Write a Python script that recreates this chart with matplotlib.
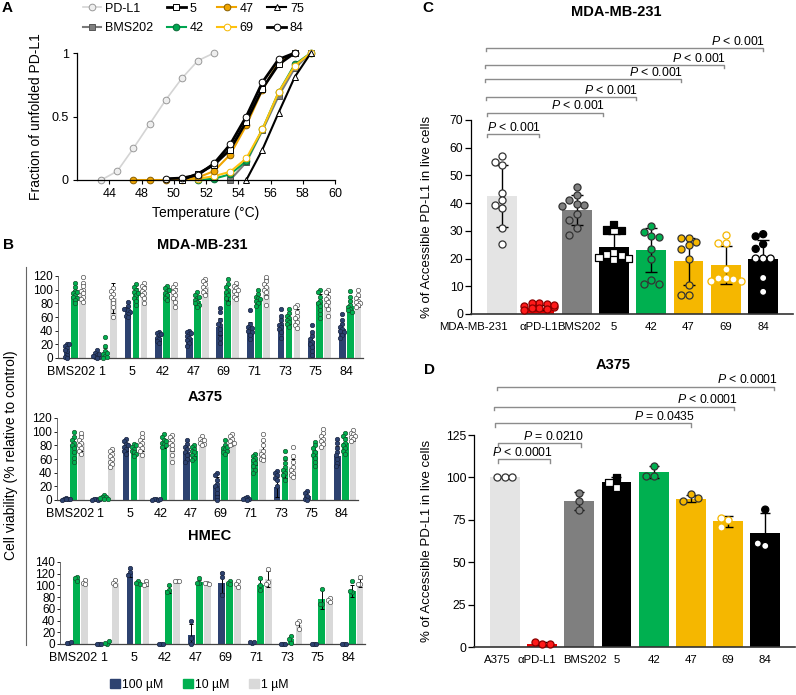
#!/usr/bin/env python3
# Thermal unfolding, cell viability and PD-L1 accessibility panels (A-D).

import matplotlib
matplotlib.use("Agg")
import matplotlib.pyplot as plt
import matplotlib.transforms as mtransforms
from matplotlib.lines import Line2D
from matplotlib.patches import Patch
import numpy as np

plt.rcParams.update({
    "font.family": ["Liberation Sans", "DejaVu Sans"],
    "mathtext.fontset": "custom",
    "mathtext.rm": "Liberation Sans",
    "mathtext.it": "Liberation Sans:italic",
    "axes.spines.top": False,
    "axes.spines.right": False,
    "axes.linewidth": 0.9,
    "xtick.direction": "out",
    "ytick.direction": "out",
})

W, H = 796, 695

# ---------------- panel A: unfolding curves ----------------
temp_ticks = [44, 46, 48, 50, 52, 54, 56, 58]
temp_tick_labels = ["44", "48", "50", "52", "54", "56", "58", "60"]

temp_pdl1 = [43.5, 44.5, 45.5, 46.5, 47.5, 48.5, 49.5, 50.5]
frac_pdl1 = [0, 0.07, 0.25, 0.44, 0.63, 0.80, 0.94, 1.0]
temp_bms = [51.5, 52.5, 53.5, 54.5, 55.5, 56.5]
frac_bms = [0, 0.14, 0.39, 0.66, 0.88, 1.0]
temp_5 = [48.5, 49.5, 50.5, 51.5, 52.5, 53.5, 54.5, 55.5]
frac_5 = [0, 0.05, 0.12, 0.24, 0.46, 0.72, 0.91, 1.0]
temp_42 = [49.5, 50.5, 51.5, 52.5, 53.5, 54.5, 55.5, 56.5]
frac_42 = [0, 0.01, 0.045, 0.15, 0.40, 0.69, 0.91, 1.0]
temp_47 = [45.5, 46.5, 47.5, 48.5, 49.5, 50.5, 51.5, 52.5, 53.5, 54.5, 55.5]
frac_47 = [0, 0, 0, 0.005, 0.02, 0.07, 0.20, 0.43, 0.71, 0.93, 1.0]
temp_69 = [48.5, 49.5, 50.5, 51.5, 52.5, 53.5, 54.5, 55.5, 56.5]
frac_69 = [0, 0.01, 0.03, 0.065, 0.17, 0.40, 0.69, 0.90, 1.0]
temp_75 = [52.5, 53.5, 54.5, 55.5, 56.5]
frac_75 = [0, 0.24, 0.53, 0.81, 1.0]
temp_84 = [47.5, 48.5, 49.5, 50.5, 51.5, 52.5, 53.5, 54.5, 55.5]
frac_84 = [0.01, 0.015, 0.04, 0.13, 0.28, 0.50, 0.77, 0.95, 1.0]

# ---------------- panel B: viability ----------------
compounds_b = ["BMS202", "1", "5", "42", "47", "69", "71", "73", "75", "84"]

mda_100 = [10, 2, 69, 30, 30, 46, 42, 48, 25, 42]
mda_10 = [91, 7, 94, 94, 84, 96, 86, 57, 82, 76]
mda_1 = [99, 88, 97, 93, 104, 99, 104, 62, 85, 82]
mda_sd_100 = [8, 4, 7, 5, 6, 13, 10, 10, 10, 8]
mda_sd_10 = [8, 8, 9, 8, 6, 12, 7, 7, 12, 8]
mda_sd_1 = [10, 22, 9, 10, 9, 8, 12, 10, 12, 7]
mda_pts_100 = [[20, 18, 15, 10, 5, 2, 0, 20, 12], [12, 8, 5, 2, 1, 0, 3, 6],
               [82, 76, 72, 70, 68, 65, 62, 60, 72], [38, 36, 33, 30, 28, 25, 22, 35],
               [40, 38, 35, 32, 29, 26, 22, 18, 36], [73, 68, 56, 48, 42, 36, 30, 22, 50],
               [70, 50, 46, 42, 40, 38, 34, 28, 44], [72, 62, 55, 50, 48, 45, 42, 38, 30],
               [48, 38, 32, 28, 24, 20, 16, 10, 4], [64, 56, 50, 46, 42, 40, 38, 34, 30]]
mda_pts_10 = [[110, 104, 98, 95, 92, 90, 88, 85, 80, 96], [31, 18, 10, 6, 3, 0, 8, 2],
              [108, 104, 100, 96, 92, 88, 84, 78, 95], [106, 102, 98, 95, 92, 88, 85, 100],
              [96, 92, 88, 85, 82, 80, 78, 75, 90], [115, 108, 100, 96, 92, 88, 80, 104],
              [100, 94, 90, 88, 86, 84, 80, 76], [72, 66, 62, 58, 55, 52, 50, 46],
              [100, 96, 90, 84, 80, 76, 70, 64, 58], [98, 90, 84, 78, 75, 72, 70, 68]]
mda_pts_1 = [[118, 110, 105, 100, 98, 95, 90, 86, 82], [102, 98, 94, 90, 85, 80, 75, 60],
             [110, 106, 102, 98, 95, 92, 88, 80], [108, 104, 100, 96, 92, 88, 82, 74],
             [116, 112, 108, 104, 100, 96, 92], [110, 106, 102, 98, 94, 90, 86, 100],
             [118, 112, 108, 104, 100, 96, 90, 78], [78, 74, 68, 62, 58, 52, 48, 44],
             [100, 96, 90, 86, 82, 78, 72, 62], [100, 92, 88, 84, 82, 80, 78, 74]]

a375_100 = [1, 0, 77, 0, 70, 20, 2, 19, 6, 65]
a375_10 = [81, 4, 73, 82, 71, 74, 60, 45, 71, 83]
a375_1 = [83, 62, 80, 83, 85, 86, 74, 48, 89, 92]
a375_sd_100 = [1, 1, 6, 1, 10, 13, 2, 14, 5, 14]
a375_sd_10 = [12, 2, 6, 6, 7, 6, 9, 13, 10, 9]
a375_sd_1 = [12, 9, 9, 12, 5, 5, 12, 12, 8, 5]
a375_pts_100 = [[3, 2, 1, 0, 1, 2], [2, 1, 0, 0, 1], [90, 86, 82, 78, 75, 72, 68, 80],
                [2, 1, 0, 0, 1], [88, 82, 78, 74, 70, 66, 60, 56],
                [40, 36, 30, 24, 20, 16, 10, 5, 0], [5, 3, 2, 1, 0], [43, 40, 36, 32, 30, 20],
                [13, 10, 6, 2, 0], [90, 84, 76, 70, 66, 60, 54, 50]]
a375_pts_10 = [[99, 92, 88, 84, 80, 76, 70, 62, 56], [7, 5, 4, 3, 2, 1],
               [82, 78, 75, 72, 70, 68, 64, 80], [96, 92, 88, 84, 82, 80, 78, 86],
               [80, 78, 75, 72, 70, 66, 62, 58], [88, 80, 76, 74, 72, 70, 68, 78],
               [68, 65, 62, 58, 54, 50, 44, 40], [72, 62, 54, 48, 44, 40, 36, 30],
               [85, 80, 76, 70, 66, 62, 56, 50], [98, 94, 90, 84, 80, 76, 72, 68]]
a375_pts_1 = [[98, 92, 88, 84, 80, 76, 72, 68], [75, 72, 68, 64, 60, 56, 52, 48],
              [98, 92, 88, 84, 80, 76, 72, 66], [95, 92, 88, 84, 80, 74, 66, 55],
              [94, 90, 86, 84, 82, 80, 88], [97, 94, 90, 86, 82, 80, 84],
              [96, 88, 80, 72, 68, 64, 60, 58], [77, 64, 56, 48, 44, 40, 36, 34],
              [104, 98, 94, 90, 86, 82, 78], [102, 98, 96, 94, 92, 90, 86]]

hmec_100 = [2, 0, 121, 0, 15, 105, 2, 0, 0, 0]
hmec_10 = [111, 2, 105, 93, 106, 104, 101, 8, 76, 91]
hmec_1 = [106, 105, 103, 107, 104, 102, 111, 33, 73, 104]
hmec_sd_100 = [1, 0, 7, 0, 20, 18, 1, 0, 0, 0]
hmec_sd_10 = [4, 2, 2, 6, 4, 3, 10, 6, 16, 10]
hmec_sd_1 = [4, 5, 4, 1, 1, 5, 14, 7, 3, 7]
hmec_pts_100 = [[1, 2, 3], [0, 0, 0], [130, 123, 118], [0, 0, 0], [0, 10, 40],
                [122, 115, 84], [1, 3, 4], [0, 0, 0], [0, 0, 0], [0, 0, 0]]
hmec_pts_10 = [[115, 112, 108], [0, 2, 5], [107, 105, 103], [100, 92, 88], [112, 105, 104],
               [108, 104, 102], [112, 100, 92], [13, 8, 2], [94, 68, 68], [107, 88, 90]]
hmec_pts_1 = [[110, 105, 103], [110, 105, 100], [108, 102, 100], [108, 108, 107],
              [105, 104, 103], [108, 103, 98], [128, 106, 103], [40, 36, 26],
              [78, 75, 72], [114, 102, 103]]

# ---------------- panels C and D: accessible PD-L1 ----------------
c_labels = ["MDA-MB-231", "αPD-L1", "BMS202", "5", "42", "47", "69", "84"]
c_mean = [42.7, 2.3, 37.6, 24.3, 23.2, 19.0, 17.6, 20.0]
c_sd = [11.2, 1.0, 5.5, 4.7, 8.0, 8.5, 6.8, 6.8]
c_pts = [[57, 53.8, 55, 43.7, 41, 39.2, 38.4, 31, 25.2],
         [4, 3.8, 3.5, 3, 2.6, 2.2, 2, 1.8, 1.5, 3.2],
         [45.8, 43, 41, 39.6, 39.5, 39, 36, 34, 31, 28.5],
         [32.4, 30.3, 30, 22, 21.5, 21, 20.5, 20, 19.5],
         [31.8, 29.5, 28.2, 27.8, 23.5, 20, 12.3, 11, 10.7],
         [27.5, 27.3, 26, 24.8, 23.3, 20, 10.5, 6.7, 6.7],
         [28.6, 25.5, 25.5, 16.3, 13, 13, 12.5, 12, 12],
         [28.8, 28, 25.2, 23.5, 20, 20, 20, 13, 8]]
c_pvals = ["< 0.001", "< 0.001", "< 0.001", "< 0.001", "< 0.001", "< 0.001"]
c_br_left = [-0.4, -0.4, -0.43, -0.45, -0.45, -0.43]
c_br_right = [1.0, 2.7, 3.6, 4.8, 5.95, 7.0]
c_br_y = [65, 72.6, 78.3, 84.8, 89.9, 96]

d_labels = ["A375", "αPD-L1", "BMS202", "5", "42", "47", "69", "84"]
d_mean = [100, 2.0, 86, 97, 103, 87.5, 74, 67.5]
d_sd = [0, 0.7, 5.5, 3, 3.5, 2.2, 3, 11.5]
d_pts = [[100, 100, 100], [1.5, 2.7, 1.8], [91, 86, 80.5], [100, 96.8, 94.2],
         [107, 101, 101], [90, 86, 88], [75, 71, 76.2], [81, 59.6, 61]]
d_pvals = ["< 0.0001", "= 0.0210", "= 0.0435", "< 0.0001", "< 0.0001"]
d_br_left = [-0.19, -0.19, -0.27, -0.3, -0.2]
d_br_right = [1.2, 2.04, 5.0, 6.17, 7.24]
d_br_y = [110.6, 120, 131.8, 141.8, 153.5]

NAVY = "#2d4270"
GREEN = "#00b050"
LGRAY = "#d9d9d9"
GOLD = "#f5b700"
RED = "#e60000"

fig = plt.figure(figsize=(W / 100, H / 100), dpi=100)


def add_ax(left, top, right, bottom):
    return fig.add_axes([left / W, 1 - bottom / H, (right - left) / W, (bottom - top) / H])


def ftext(x, y, s, **kw):
    fig.text(x / W, 1 - y / H, s, **kw)


def swarm(vals, ythr, dx, nmax=2):
    cands = [0.0]
    for k in range(1, nmax + 1):
        cands += [-k * dx, k * dx]
    placed, offs = [], []
    for v in vals:
        def clash(c):
            return sum(1 for pv, pc in placed if abs(v - pv) < ythr and abs(c - pc) < dx * 0.99)
        free = [c for c in cands if clash(c) == 0]
        best = free[0] if free else min(cands, key=clash)
        placed.append((v, best))
        offs.append(best)
    return np.array(offs)


# ---- A ----
ax = add_ax(77, 53, 335, 180)
styles = [
    ("PD-L1", temp_pdl1, frac_pdl1, dict(color="#d4d4d4", lw=1.2, marker="o", mfc="#eeeeee", mec="#999999")),
    ("BMS202", temp_bms, frac_bms, dict(color="#7a7a7a", lw=1.5, marker="s", mfc="#7f7f7f", mec="#555555")),
    ("42", temp_42, frac_42, dict(color="#00a651", lw=1.5, marker="o", mfc="#00a651", mec="#0b6b36")),
    ("69", temp_69, frac_69, dict(color="#ffc20e", lw=1.5, marker="o", mfc="white", mec=GOLD)),
    ("47", temp_47, frac_47, dict(color="#f0a500", lw=1.5, marker="o", mfc="#f0a500", mec="#8a6000")),
    ("75", temp_75, frac_75, dict(color="black", lw=1.5, marker="^", mfc="white", mec="black")),
    ("5", temp_5, frac_5, dict(color="black", lw=2.0, marker="s", mfc="white", mec="black")),
    ("84", temp_84, frac_84, dict(color="black", lw=2.0, marker="o", mfc="white", mec="black")),
]
handles = {}
for name, tx, fy, st in styles:
    ln, = ax.plot(tx, fy, ms=4.8, mew=0.7, clip_on=False, label=name, **st)
    handles[name] = ln
ax.set_xlim(42, 58)
ax.set_ylim(0, 1)
ax.set_xticks(temp_ticks)
ax.set_xticklabels(temp_tick_labels)
ax.set_yticks([0, 0.5, 1])
ax.set_yticklabels(["0", "0.5", "1"])
ax.tick_params(labelsize=9, length=3, width=0.8, pad=3)
ax.set_xlabel("Temperature (°C)", fontsize=10, labelpad=4)
ax.set_ylabel("Fraction of unfolded PD-L1", fontsize=10, labelpad=6)
order = ["PD-L1", "BMS202", "5", "42", "47", "69", "75", "84"]
fig.legend([handles[k] for k in order], order, ncol=4, loc="upper left",
           bbox_to_anchor=(80 / W, 1 - 0 / H), frameon=False, fontsize=9,
           handlelength=1.5, handletextpad=0.3, columnspacing=1.1,
           labelspacing=0.6, borderaxespad=0, borderpad=0.2)
ftext(7, 8, "A", fontsize=11, fontweight="bold", ha="center", va="center")

# ---- B ----
bar_off = [-0.26, 0.0, 0.26]
bar_col = [NAVY, GREEN, LGRAY]
pt_face = [NAVY, GREEN, "white"]
pt_edge = ["#1a2540", "#14532d", "#555555"]


def draw_viability(ax, means, sds, pts, ymax, ythr):
    for k in range(3):
        x = np.arange(len(compounds_b)) + bar_off[k]
        ax.bar(x, means[k], width=0.22, color=bar_col[k], zorder=1)
        ax.errorbar(x, means[k], yerr=sds[k], fmt="none", ecolor="black",
                    elinewidth=0.7, capsize=1.5, capthick=0.7, zorder=2)
        for i, vals in enumerate(pts[k]):
            off = swarm(vals, ythr, 0.065, nmax=2)
            ax.scatter(x[i] + off, vals, s=10, facecolor=pt_face[k], edgecolor=pt_edge[k],
                       linewidth=0.5, zorder=3, clip_on=False)
    ax.set_xlim(-0.55, 9.42)
    ax.set_ylim(0, ymax)
    ax.set_yticks(np.arange(0, ymax + 1, 20))
    ax.set_xticks(np.arange(len(compounds_b)) - 0.13)
    ax.set_xticklabels(compounds_b, fontsize=9)
    ax.tick_params(axis="x", length=0, pad=6)
    ax.tick_params(axis="y", labelsize=8.5, length=2.5, width=0.6, pad=1)
    ax.spines["left"].set_linewidth(0.6)
    ax.spines["left"].set_color("#555555")
    ax.spines["bottom"].set_color("#444444")


axb1 = add_ax(58, 276, 363, 358)
draw_viability(axb1, [mda_100, mda_10, mda_1], [mda_sd_100, mda_sd_10, mda_sd_1],
               [mda_pts_100, mda_pts_10, mda_pts_1], 120, 5)
axb2 = add_ax(57, 418, 358, 500)
draw_viability(axb2, [a375_100, a375_10, a375_1], [a375_sd_100, a375_sd_10, a375_sd_1],
               [a375_pts_100, a375_pts_10, a375_pts_1], 120, 5)
axb3 = add_ax(60, 562, 365, 644)
draw_viability(axb3, [hmec_100, hmec_10, hmec_1], [hmec_sd_100, hmec_sd_10, hmec_sd_1],
               [hmec_pts_100, hmec_pts_10, hmec_pts_1], 140, 6)

ftext(202, 245, "MDA-MB-231", fontsize=10.5, fontweight="bold", ha="center", va="center")
ftext(205, 397, "A375", fontsize=10.5, fontweight="bold", ha="center", va="center")
ftext(210, 536, "HMEC", fontsize=10.5, fontweight="bold", ha="center", va="center")
ftext(8, 245, "B", fontsize=11, fontweight="bold", ha="center", va="center")
ftext(11, 455, "Cell viability (% relative to control)", fontsize=10, rotation=90,
      ha="center", va="center")
fig.add_artist(Line2D([26 / W, 26 / W], [1 - 267 / H, 1 - 645 / H], color="#666666", lw=0.8))
fig.legend([Patch(color=c) for c in bar_col], ["100 µM", "10 µM", "1 µM"], ncol=3,
           loc="center left", bbox_to_anchor=(110 / W, 1 - 685 / H), frameon=False,
           fontsize=8.8, handlelength=0.8, handleheight=0.8, handletextpad=0.2,
           columnspacing=1.6, borderaxespad=0, borderpad=0)


# ---- C and D ----
def accessible_panel(ax, labels, means, sds, pts, ymax, yticks, ythr, capsize, lab_shift):
    colors = [LGRAY, RED, "#7f7f7f", "black", GREEN, GOLD, GOLD, "black"]
    x = np.arange(len(labels))
    ax.bar(x, means, width=0.8, color=["#e4e4e4"] + colors[1:], zorder=1)
    ax.errorbar(x, means, yerr=sds, fmt="none", ecolor="black", elinewidth=1.0,
                capsize=capsize, capthick=1.0, zorder=2)
    for i, vals in enumerate(pts):
        vals = np.array(vals, dtype=float)
        off = swarm(vals, ythr, 0.2, nmax=2)
        marker = "s" if labels[i] == "5" else "o"
        if i == 0:
            fc, ec = "white", "#333333"
        elif i == 1:
            fc, ec = "#ff1a1a", "#8b0000"
        elif i == 2:
            fc, ec = "#808080", "#333333"
        elif i == 4:
            fc, ec = GREEN, "#333333"
        elif i == 5:
            fc, ec = GOLD, "#333333"
        elif i == 6:
            fc, ec = "white", GOLD
        else:
            fc = np.where(vals > means[i], "black", "white").tolist()
            ec = "black"
        ax.scatter(x[i] + off, vals, s=26, marker=marker, facecolor=fc, edgecolor=ec,
                   linewidth=0.9, zorder=3, clip_on=False)
    ax.set_xlim(-0.83, 7.8)
    ax.set_ylim(0, ymax)
    ax.set_yticks(yticks)
    ax.set_xticks([])
    ax.tick_params(axis="y", labelsize=8.8, length=4, width=0.9, pad=1.5)
    ax.spines["bottom"].set_linewidth(1.2)
    ax.spines["bottom"].set_color("#333333")
    lab_tr = ax.get_xaxis_transform() + mtransforms.ScaledTranslation(0, -0.13, fig.dpi_scale_trans)
    for i, lab in enumerate(labels):
        if i == 0 and lab == "MDA-MB-231":
            ax.text(0.16, 0, lab, transform=lab_tr, ha="right", va="center", fontsize=8.2)
        else:
            fs = 7.6 if (lab == "84" and ymax == 70) else 8.2
            ax.text(i + lab_shift[i], 0, lab, transform=lab_tr, ha="center", va="center",
                    fontsize=fs)


def brackets(ax, lefts, rights, ys, pvals, tick, dx_text):
    for l, r, y, p in zip(lefts, rights, ys, pvals):
        ax.plot([l, l, r, r], [y - tick, y, y, y - tick], color="#8c8c8c", lw=1.0,
                clip_on=False, zorder=4)
        ax.text(r + dx_text, y + tick * 0.1, r"$\mathit{P}$ " + p, ha="right", va="bottom",
                fontsize=8.8, clip_on=False)


axc = add_ax(471, 120, 793, 314)
accessible_panel(axc, c_labels, c_mean, c_sd, c_pts, 70, np.arange(0, 71, 10), 2.6, 4.5,
                 [0, 0, 0.05, 0, 0, 0, 0, 0])
brackets(axc, c_br_left, c_br_right, c_br_y, c_pvals, 1.2, 0.06)
axc.set_ylabel("% of Accessible PD-L1 in live cells", fontsize=9.5, labelpad=6)
axc.yaxis.set_label_coords((433 - 471) / (793 - 471), 0.5)
ftext(616, 12, "MDA-MB-231", fontsize=10.5, fontweight="bold", ha="center", va="center")
ftext(428, 8, "C", fontsize=11, fontweight="bold", ha="center", va="center")

axd = add_ax(474, 435, 795, 647)
accessible_panel(axd, d_labels, d_mean, d_sd, d_pts, 125, [0, 25, 50, 75, 100, 125], 4.1, 3.6,
                 [-0.2, -0.13, 0.15, 0, 0, 0, 0, 0])
brackets(axd, d_br_left, d_br_right, d_br_y, d_pvals, 2.0, 0.1)
axd.set_ylabel("% of Accessible PD-L1 in live cells", fontsize=9.5, labelpad=6)
axd.yaxis.set_label_coords((433 - 474) / (795 - 474), 0.5)
ftext(613, 365, "A375", fontsize=10.5, fontweight="bold", ha="center", va="center")
ftext(430, 370, "D", fontsize=11, fontweight="bold", ha="center", va="center")

fig.savefig("out.png", dpi=100)
